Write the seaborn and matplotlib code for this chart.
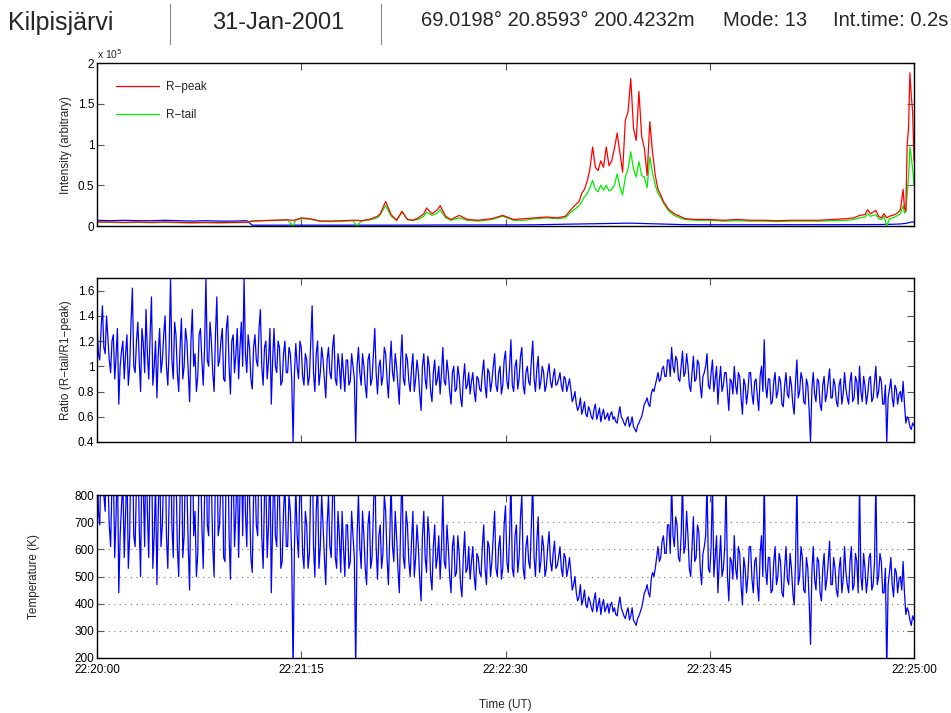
import numpy as np
import pandas as pd
import matplotlib
matplotlib.use("Agg")
import matplotlib.pyplot as plt
from matplotlib.ticker import FuncFormatter
import seaborn as sns

# ---------------- data ----------------
header_site = "Kilpisjärvi"
header_date = "31-Jan-2001"
header_pos = "69.0198° 20.8593° 200.4232m"
header_mode = "Mode: 13"
header_int = "Int.time: 0.2s"

xtick_pos = [0, 75, 150, 225, 300]
xtick_labels = ["22:20:00", "22:21:15", "22:22:30", "22:23:45", "22:25:00"]

# intensity panel (units of 1e5), time in seconds after 22:20:00
t_int = [0, 5, 10, 15, 20, 25, 30, 35, 40, 45, 50, 55, 57, 60, 65, 70, 72, 73, 75, 78,
         82, 86, 90, 94, 95.5, 97, 100, 103, 104, 106, 108, 110, 112, 114, 116, 118, 120, 121, 123, 125,
         126, 128, 130, 133, 136, 140, 145, 149, 153, 157, 161, 165, 169, 172, 174, 176, 177, 178, 179, 180,
         181, 182, 183, 184, 185, 186, 187, 188, 189, 190, 191, 192, 193, 194, 195, 196, 197, 198, 199, 200,
         201, 202, 203, 204, 205, 206, 207, 208, 210, 212, 214, 216, 220, 225, 230, 235, 240, 245, 250, 255,
         260, 265, 270, 275, 278, 280, 282, 283, 284, 286, 287, 288, 289, 290, 291, 292, 293, 294, 295, 296,
         296.5, 297, 297.5, 298, 298.5, 299, 299.5, 300]
r_peak = [0.05, 0.05, 0.045, 0.05, 0.045, 0.05, 0.045, 0.04, 0.045, 0.04, 0.045, 0.045, 0.06, 0.065, 0.07, 0.075, 0.07, 0.075, 0.1, 0.09,
          0.06, 0.06, 0.065, 0.07, 0.07, 0.065, 0.08, 0.12, 0.15, 0.3, 0.14, 0.07, 0.18, 0.08, 0.07, 0.1, 0.15, 0.22, 0.15, 0.2,
          0.25, 0.12, 0.08, 0.13, 0.08, 0.07, 0.09, 0.13, 0.08, 0.09, 0.1, 0.11, 0.1, 0.12, 0.2, 0.27, 0.3, 0.4, 0.45, 0.55,
          0.7, 0.97, 0.72, 0.68, 0.8, 0.72, 0.97, 0.74, 0.8, 0.95, 1.14, 0.9, 0.66, 1.3, 1.4, 1.81, 1.2, 1.05, 1.65, 1.1,
          0.95, 0.62, 1.28, 0.9, 0.62, 0.45, 0.38, 0.3, 0.2, 0.15, 0.12, 0.09, 0.08, 0.08, 0.07, 0.08, 0.07, 0.07, 0.065, 0.07,
          0.07, 0.07, 0.08, 0.09, 0.1, 0.13, 0.14, 0.2, 0.15, 0.19, 0.12, 0.1, 0.15, 0.1, 0.12, 0.13, 0.14, 0.16, 0.2, 0.45,
          0.22, 0.18, 1.0, 1.2, 1.88, 1.6, 1.4, 0.8]
r_tail = [0.045, 0.045, 0.04, 0.045, 0.04, 0.045, 0.04, 0.04, 0.04, 0.04, 0.04, 0.045, 0.06, 0.065, 0.07, 0.075, 0.0, 0.075, 0.09, 0.085,
          0.06, 0.055, 0.06, 0.065, 0.0, 0.06, 0.075, 0.1, 0.14, 0.25, 0.12, 0.07, 0.17, 0.08, 0.07, 0.08, 0.12, 0.17, 0.13, 0.16,
          0.2, 0.1, 0.07, 0.1, 0.07, 0.06, 0.08, 0.12, 0.07, 0.07, 0.09, 0.1, 0.09, 0.1, 0.17, 0.22, 0.25, 0.3, 0.36, 0.4,
          0.47, 0.56, 0.45, 0.42, 0.5, 0.44, 0.5, 0.43, 0.45, 0.5, 0.64, 0.48, 0.38, 0.6, 0.7, 0.91, 0.7, 0.6, 0.79, 0.62,
          0.6, 0.47, 0.85, 0.65, 0.5, 0.4, 0.35, 0.28, 0.18, 0.13, 0.1, 0.08, 0.07, 0.07, 0.06, 0.065, 0.06, 0.06, 0.055, 0.06,
          0.06, 0.06, 0.065, 0.07, 0.08, 0.1, 0.11, 0.15, 0.12, 0.14, 0.09, 0.08, 0.12, 0.0, 0.09, 0.1, 0.11, 0.13, 0.15, 0.25,
          0.16, 0.18, 0.4, 0.6, 0.97, 0.85, 0.7, 0.5]
r_base = [0.07, 0.065, 0.07, 0.065, 0.065, 0.07, 0.065, 0.06, 0.065, 0.06, 0.06, 0.065, 0.01, 0.01, 0.01, 0.01, 0.01, 0.01, 0.01, 0.01,
          0.01, 0.01, 0.01, 0.01, 0.01, 0.01, 0.01, 0.01, 0.01, 0.011, 0.011, 0.011, 0.011, 0.011, 0.011, 0.011, 0.012, 0.012, 0.012, 0.012,
          0.012, 0.012, 0.012, 0.012, 0.012, 0.012, 0.012, 0.013, 0.013, 0.014, 0.015, 0.018, 0.02, 0.022, 0.023, 0.024, 0.025, 0.025, 0.025, 0.025,
          0.026, 0.027, 0.028, 0.028, 0.029, 0.03, 0.03, 0.03, 0.031, 0.03, 0.032, 0.033, 0.034, 0.035, 0.035, 0.035, 0.034, 0.033, 0.032, 0.03,
          0.03, 0.029, 0.028, 0.027, 0.025, 0.024, 0.023, 0.022, 0.02, 0.018, 0.017, 0.016, 0.015, 0.015, 0.015, 0.015, 0.015, 0.015, 0.015, 0.015,
          0.015, 0.015, 0.015, 0.016, 0.016, 0.017, 0.017, 0.017, 0.018, 0.018, 0.018, 0.019, 0.019, 0.02, 0.02, 0.021, 0.022, 0.023, 0.025, 0.028,
          0.03, 0.032, 0.035, 0.04, 0.045, 0.048, 0.05, 0.05]

# ratio panel: values on whole seconds (t = 0 ... 300)
ratio = [1.35, 1.05, 1.48, 1.1, 1.22, 0.95, 1.25, 1.08, 0.7, 1.12,
         0.9, 1.25, 1.0, 1.62, 0.95, 1.35, 0.8, 1.18, 1.45, 0.9,
         1.55, 1.0, 0.75, 1.3, 1.05, 1.4, 0.85, 1.7, 0.9, 1.25,
         0.8, 1.38, 1.0, 1.2, 0.72, 1.45, 1.1, 0.92, 1.3, 0.85,
         1.7, 1.0, 1.2, 0.8, 1.55, 1.05, 1.3, 0.88, 1.4, 0.78,
         1.25, 1.1, 0.9, 1.35, 1.7, 0.95, 1.15, 0.82, 1.25, 1.0,
         1.45, 0.85, 1.2, 1.05, 0.7, 1.3, 0.95, 1.15, 0.88, 1.2,
         0.95, 1.1, 0.4, 1.18, 0.9, 1.15, 0.85, 1.05, 0.92, 1.48,
         0.8, 1.2, 0.95, 1.05, 0.75, 1.15, 0.9, 1.25, 0.85, 1.0,
         1.1, 0.8, 1.05, 0.88, 1.0, 0.4, 1.15, 0.85, 1.0, 0.75,
         1.1, 0.9, 1.3, 0.78, 1.05, 0.92, 1.1, 0.75, 1.2, 0.88,
         1.0, 0.7, 1.25, 0.85, 1.05, 0.8, 1.1, 0.9, 0.95, 0.65,
         1.1, 0.82, 1.0, 0.72, 1.05, 0.9, 0.78, 1.15, 0.85, 0.95,
         0.7, 1.0, 0.82, 0.92, 0.68, 1.02, 0.85, 0.78, 0.95, 0.72,
         0.9, 0.8, 1.05, 0.75, 0.95, 0.88, 1.1, 0.8, 1.0, 0.85,
         1.12, 0.82, 1.21, 0.8, 1.05, 0.9, 1.15, 0.78, 1.0, 0.85,
         1.2, 0.8, 1.08, 0.88, 0.95, 0.85, 1.02, 0.83, 0.98, 0.86,
         0.95, 0.8, 0.9, 0.85, 0.82, 0.75, 0.7, 0.68, 0.62, 0.72,
         0.6, 0.65, 0.58, 0.7, 0.62, 0.56, 0.66, 0.6, 0.57, 0.64,
         0.6, 0.55, 0.68, 0.58, 0.53, 0.6, 0.55, 0.52, 0.48, 0.55,
         0.6, 0.7, 0.75, 0.68, 0.82, 0.85, 0.95, 0.9, 1.0, 0.92,
         1.05, 1.15, 0.95, 1.05, 0.88, 1.12, 0.95, 1.0, 0.8, 1.08,
         0.9, 1.02, 0.75, 0.95, 1.1, 0.82, 1.05, 0.9, 0.7, 1.0,
         0.85, 0.95, 0.65, 0.88, 1.0, 0.78, 0.92, 0.62, 0.85, 0.8,
         0.95, 0.7, 0.9, 0.65, 1.0, 1.21, 0.75, 0.9, 0.72, 0.95,
         0.8, 0.88, 0.68, 0.95, 0.75, 0.85, 0.62, 1.05, 0.8, 0.9,
         0.7, 0.85, 0.4, 0.95, 0.72, 0.88, 0.65, 0.92, 0.78, 0.98,
         0.75, 0.85, 0.68, 0.9, 0.78, 0.82, 0.7, 0.95, 0.75, 0.88,
         1.0, 0.72, 0.85, 0.78, 0.92, 0.75, 1.0, 0.8, 0.88, 0.7,
         0.4, 0.82, 0.75, 0.85, 0.7, 0.8, 0.88, 0.55, 0.58, 0.5, 0.53]
# ratio panel: values on half seconds (t = 0.5 ... 299.5)
ratio_half = [1.1, 1.3, 1.15, 1.4, 1.05, 1.2, 0.9, 1.3, 1.0, 1.2,
              1.1, 0.85, 1.35, 1.0, 1.2, 1.05, 1.3, 0.95, 1.1, 1.25,
              0.85, 1.2, 1.1, 0.95, 1.25, 1.0, 1.15, 1.05, 1.35, 0.95,
              1.15, 0.9, 1.3, 0.95, 1.2, 1.0, 0.8, 1.25, 1.05, 1.15,
              1.05, 1.35, 0.95, 1.25, 1.0, 1.2, 0.9, 1.3, 1.0, 1.2,
              0.95, 1.3, 1.15, 1.0, 1.1, 1.25, 0.9, 1.15, 1.05, 1.3,
              1.0, 1.15, 0.9, 1.3, 1.05, 1.0, 1.2, 0.85, 1.1, 0.95,
              1.15, 0.9, 0.95, 1.0, 1.2, 0.92, 1.1, 0.85, 1.2, 0.95,
              1.1, 0.85, 1.15, 0.9, 1.05, 0.95, 1.15, 0.9, 1.1, 0.82,
              0.95, 1.05, 0.85, 1.1, 0.9, 1.0, 0.95, 1.1, 0.85, 1.05,
              0.85, 1.1, 0.95, 1.0, 0.85, 1.15, 0.9, 1.0, 0.95, 1.1,
              0.85, 1.05, 0.9, 1.1, 0.88, 0.98, 0.8, 1.05, 0.78, 1.0,
              0.9, 1.08, 0.8, 0.95, 0.85, 1.0, 0.95, 0.88, 1.05, 0.8,
              0.95, 0.8, 1.0, 0.75, 0.9, 0.82, 0.95, 0.88, 0.8, 0.92,
              0.82, 0.95, 0.85, 0.98, 0.8, 1.0, 0.85, 0.95, 0.78, 1.05,
              0.88, 1.0, 0.85, 1.0, 0.82, 1.08, 0.85, 0.95, 0.88, 1.05,
              0.9, 0.98, 0.82, 1.0, 0.8, 0.95, 0.88, 0.92, 0.85, 0.9,
              0.85, 0.92, 0.8, 0.9, 0.72, 0.8, 0.65, 0.75, 0.66, 0.62,
              0.68, 0.6, 0.66, 0.58, 0.67, 0.62, 0.58, 0.63, 0.62, 0.58,
              0.56, 0.62, 0.6, 0.55, 0.58, 0.52, 0.6, 0.5, 0.53, 0.58,
              0.65, 0.72, 0.7, 0.78, 0.8, 0.9, 0.88, 0.98, 0.92, 1.05,
              0.92, 1.0, 1.08, 0.9, 1.0, 0.92, 1.1, 0.85, 0.95, 0.88,
              1.05, 0.85, 0.92, 1.0, 0.85, 0.95, 0.8, 1.0, 0.88, 0.8,
              0.95, 0.8, 0.9, 0.78, 0.85, 0.95, 0.75, 0.9, 0.7, 0.95,
              0.78, 0.88, 0.75, 0.92, 0.8, 0.85, 0.9, 0.7, 0.88, 0.75,
              0.92, 0.7, 0.85, 0.78, 0.92, 0.7, 0.88, 0.75, 0.95, 0.72,
              0.9, 0.65, 0.82, 0.78, 0.9, 0.7, 0.85, 0.72, 0.88, 0.75,
              0.9, 0.72, 0.85, 0.7, 0.95, 0.75, 0.88, 0.72, 0.92, 0.7,
              0.8, 0.92, 0.7, 0.9, 0.72, 0.88, 0.75, 0.92, 0.7, 0.85,
              0.75, 0.9, 0.68, 0.82, 0.78, 0.72, 0.7, 0.6, 0.52, 0.55]

# temperature panel (K): whole seconds (t = 0 ... 300)
temperature = [1000, 690, 1050, 740, 870, 610, 900, 720, 440, 760,
               570, 900, 650, 1050, 610, 1000, 500, 830, 1050, 570,
               1050, 650, 470, 950, 690, 1050, 530, 1050, 570, 900,
               500, 1030, 650, 850, 450, 1050, 740, 585, 950, 530,
               1050, 650, 850, 500, 1050, 690, 950, 555, 1050, 490,
               900, 740, 570, 1000, 1050, 610, 800, 515, 900, 650,
               1050, 530, 850, 690, 440, 950, 610, 800, 555, 850,
               610, 740, 150, 830, 570, 800, 530, 690, 585, 1050,
               500, 850, 610, 690, 470, 800, 570, 900, 530, 650,
               740, 500, 690, 555, 650, 150, 800, 530, 650, 470,
               740, 570, 950, 490, 690, 585, 740, 470, 850, 555,
               650, 440, 900, 530, 690, 500, 740, 570, 610, 410,
               740, 515, 650, 450, 690, 570, 490, 800, 530, 610,
               440, 650, 515, 585, 425, 665, 530, 490, 610, 450,
               570, 500, 690, 470, 610, 555, 740, 500, 650, 530,
               760, 515, 860, 500, 690, 570, 800, 490, 650, 530,
               850, 500, 720, 555, 610, 530, 665, 520, 630, 540,
               610, 500, 570, 530, 515, 470, 440, 425, 395, 450,
               385, 410, 370, 440, 395, 360, 415, 385, 365, 405,
               385, 355, 425, 370, 345, 385, 355, 340, 320, 355,
               385, 440, 470, 425, 515, 530, 610, 570, 650, 585,
               690, 850, 610, 690, 555, 850, 610, 650, 500, 720,
               570, 665, 470, 610, 850, 515, 850, 570, 440, 650,
               530, 850, 410, 555, 650, 490, 585, 395, 530, 500,
               610, 440, 570, 410, 650, 860, 470, 570, 450, 610,
               500, 555, 425, 610, 470, 530, 395, 850, 500, 570,
               440, 530, 250, 610, 450, 555, 410, 585, 490, 630,
               470, 530, 425, 570, 490, 515, 440, 610, 470, 555,
               850, 450, 530, 490, 585, 470, 850, 500, 555, 440,
               150, 515, 470, 530, 440, 500, 555, 360, 370, 320, 340]
# temperature panel (K): half seconds (t = 0.5 ... 299.5)
temperature_half = [740, 950, 800, 1050, 690, 850, 570, 950, 650, 850,
                    740, 530, 1000, 650, 850, 690, 950, 610, 740, 900,
                    530, 850, 740, 610, 900, 650, 800, 690, 1000, 610,
                    800, 570, 950, 610, 850, 650, 500, 900, 690, 800,
                    690, 1000, 610, 900, 650, 850, 570, 950, 650, 850,
                    610, 950, 800, 650, 740, 900, 570, 800, 690, 950,
                    650, 800, 570, 950, 690, 650, 850, 530, 740, 610,
                    800, 570, 610, 650, 850, 585, 740, 530, 850, 610,
                    740, 530, 800, 570, 690, 610, 800, 570, 740, 515,
                    610, 690, 530, 740, 570, 650, 610, 740, 530, 690,
                    530, 740, 610, 650, 530, 800, 570, 650, 610, 740,
                    530, 690, 570, 740, 555, 630, 500, 690, 490, 650,
                    570, 720, 500, 610, 530, 650, 610, 555, 690, 500,
                    610, 500, 650, 470, 570, 515, 610, 555, 500, 585,
                    515, 610, 530, 630, 500, 650, 530, 610, 490, 690,
                    555, 650, 530, 650, 515, 720, 530, 610, 555, 690,
                    570, 630, 515, 650, 500, 610, 555, 585, 530, 570,
                    530, 585, 500, 570, 450, 500, 410, 470, 415, 395,
                    425, 385, 415, 370, 420, 395, 370, 400, 395, 370,
                    360, 395, 385, 355, 370, 340, 385, 330, 345, 370,
                    410, 450, 440, 490, 500, 570, 555, 630, 585, 690,
                    585, 650, 720, 570, 650, 585, 740, 530, 610, 555,
                    690, 530, 585, 650, 530, 610, 500, 650, 555, 500,
                    610, 500, 570, 490, 530, 610, 470, 570, 440, 610,
                    490, 555, 470, 585, 500, 530, 570, 440, 555, 470,
                    585, 440, 530, 490, 585, 440, 555, 470, 610, 450,
                    570, 410, 515, 490, 570, 440, 530, 450, 555, 470,
                    570, 450, 530, 440, 610, 470, 555, 450, 585, 440,
                    500, 585, 440, 570, 450, 555, 470, 585, 440, 530,
                    470, 570, 425, 515, 490, 450, 440, 385, 340, 355]

# combine whole- and half-second samples into one time-ordered table
df_w = pd.DataFrame({"t": np.arange(len(ratio), dtype=float), "ratio": ratio, "temp": temperature})
df_h = pd.DataFrame({"t": np.arange(len(ratio_half)) + 0.5, "ratio": ratio_half, "temp": temperature_half})
df_r = pd.concat([df_w, df_h]).sort_values("t").reset_index(drop=True)

# ---------------- style ----------------
sns.set_style("ticks")
plt.rcParams["font.family"] = ["Liberation Sans", "DejaVu Sans"]
plt.rcParams["axes.unicode_minus"] = True

W, H = 951, 713
fig = plt.figure(figsize=(W / 100, H / 100), dpi=100)

def ax_at(left, top, right, bottom):
    return fig.add_axes([left / W, 1 - bottom / H, (right - left) / W, (bottom - top) / H])

ax1 = ax_at(97, 63, 914, 226)
ax2 = ax_at(97, 278, 914, 442)
ax3 = ax_at(97, 495, 914, 658)

LW = 0.9
df_int = pd.DataFrame({"t": t_int, "peak": r_peak, "tail": r_tail, "base": r_base})
sns.lineplot(data=df_int, x="t", y="base", ax=ax1, color="#0000ff", lw=LW, estimator=None)
sns.lineplot(data=df_int, x="t", y="tail", ax=ax1, color="#00ee00", lw=LW, estimator=None, label="R\u2212tail")
sns.lineplot(data=df_int, x="t", y="peak", ax=ax1, color="#ff0000", lw=LW, estimator=None, label="R\u2212peak")

sns.lineplot(data=df_r, x="t", y="ratio", ax=ax2, color="#0000ff", lw=LW, estimator=None)
sns.lineplot(data=df_r, x="t", y="temp", ax=ax3, color="#0000ff", lw=LW, estimator=None)

fmt = FuncFormatter(lambda v, p: f"{v:g}")
TS = 8.5
for ax in (ax1, ax2, ax3):
    ax.set_xlim(0, 300)
    ax.set_xticks(xtick_pos)
    ax.tick_params(direction="in", length=5, width=0.8, color="#555555",
                   top=True, right=True, labelsize=TS, labelcolor="black", pad=2)
    for s in ax.spines.values():
        s.set_visible(True)
        s.set_linewidth(1.0)
        s.set_color("black")
    ax.yaxis.set_major_formatter(fmt)
    ax.set_xlabel("")

ax1.set_xticklabels([])
ax2.set_xticklabels([])
ax3.set_xticklabels(xtick_labels)

ax1.set_ylim(0, 2)
ax1.set_yticks([0, 0.5, 1, 1.5, 2])
ax1.set_ylabel("Intensity (arbitrary)", fontsize=TS, labelpad=4)
ax1.text(0.0, 1.015, "x 10$^{5}$", transform=ax1.transAxes, fontsize=7.5, ha="left", va="bottom")
h, l = ax1.get_legend_handles_labels()
order = [l.index("R\u2212peak"), l.index("R\u2212tail")]
ax1.legend([h[i] for i in order], [l[i] for i in order], loc="upper left", frameon=False,
           fontsize=TS, handlelength=3.6, labelspacing=1.35, bbox_to_anchor=(0.015, 0.93),
           borderaxespad=0.2, handletextpad=0.6)

ax2.set_ylim(0.4, 1.7)
ax2.set_yticks([0.4, 0.6, 0.8, 1.0, 1.2, 1.4, 1.6])
ax2.set_ylabel("Ratio (R\u2212tail/R1\u2212peak)", fontsize=TS, labelpad=4)

ax3.set_ylim(200, 800)
ax3.set_yticks([200, 300, 400, 500, 600, 700, 800])
ax3.yaxis.grid(True, linestyle=(0, (1, 4)), color="#777777", linewidth=0.8)
ax3.set_axisbelow(True)
ax3.set_ylabel("Temperature (K)", fontsize=TS, labelpad=25)
ax3.set_xlabel("Time (UT)", fontsize=TS, labelpad=17)
ax3.tick_params(axis="x", pad=4)

# header
fig.text(8 / W, 1 - 23 / H, header_site, fontsize=18, va="center", ha="left")
fig.text(278 / W, 1 - 23 / H, header_date, fontsize=17, va="center", ha="center")
fig.text(421 / W, 1 - 21 / H, header_pos, fontsize=14.5, va="center", ha="left")
fig.text(723 / W, 1 - 21 / H, header_mode, fontsize=14.5, va="center", ha="left")
fig.text(833 / W, 1 - 21 / H, header_int, fontsize=14.5, va="center", ha="left")
for xp in (170, 381):
    fig.add_artist(plt.Line2D([xp / W, xp / W], [1 - 4 / H, 1 - 44 / H], color="#888888", lw=0.8))

fig.savefig("out.png", dpi=100)
